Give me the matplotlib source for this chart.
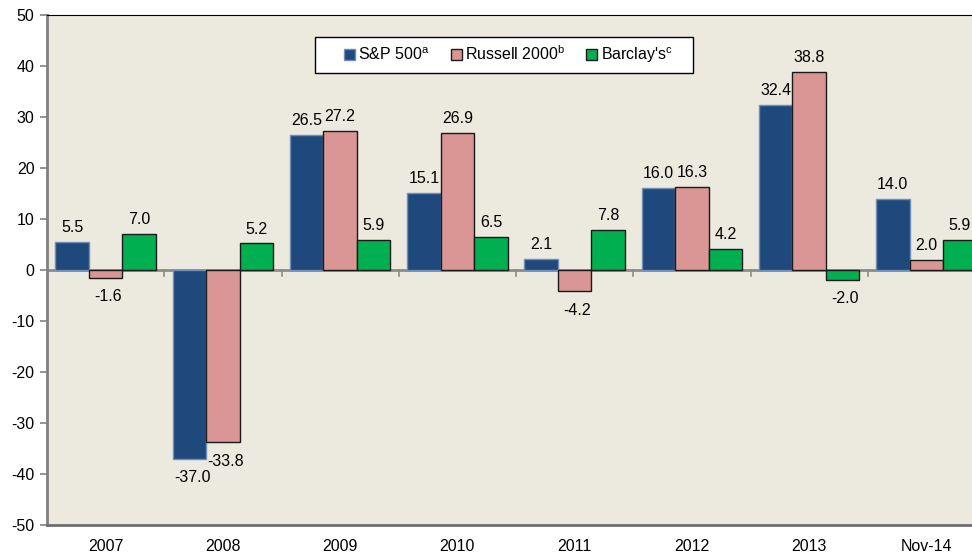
import matplotlib.pyplot as plt
from matplotlib.patches import Rectangle
import numpy as np

# chart data
categories = ['2007', '2008', '2009', '2010', '2011', '2012', '2013', 'Nov-14']
sp500 = [5.5, -37.0, 26.5, 15.1, 2.1, 16.0, 32.4, 14.0]
russell = [-1.6, -33.8, 27.2, 26.9, -4.2, 16.3, 38.8, 2.0]
barclays = [7.0, 5.2, 5.9, 6.5, 7.8, 4.2, -2.0, 5.9]

series_names = [r'S&P 500$^{\mathrm{a}}$', r'Russell 2000$^{\mathrm{b}}$', r"Barclay's$^{\mathrm{c}}$"]
colors = ['#1F497D', '#D99694', '#00B050']
edges = ['#6F8DB5', '#1a1a1a', '#1a1a1a']

plt.rcParams['font.family'] = ['Liberation Sans', 'DejaVu Sans']
plt.rcParams['mathtext.fontset'] = 'custom'
plt.rcParams['mathtext.rm'] = 'Liberation Sans'
plt.rcParams['mathtext.it'] = 'Liberation Sans'
plt.rcParams['axes.unicode_minus'] = False

fig = plt.figure(figsize=(9.72, 5.55), dpi=100)
ax = fig.add_axes([0.0484, 0.054, 0.965, 0.919])
ax.set_facecolor('#ECE9DF')

x = np.arange(len(categories))
width = 0.286
for i, (vals, name) in enumerate(zip([sp500, russell, barclays], series_names)):
    pos = x + (i - 1) * width
    bars = ax.bar(pos, vals, width, color=colors[i], edgecolor=edges[i],
                  linewidth=1.0, label=name, zorder=3)
    for b, v in zip(bars, vals):
        if v >= 0:
            ax.annotate(f'{v:.1f}', (b.get_x() + b.get_width() / 2, v),
                        xytext=(0, 5), textcoords='offset points',
                        ha='center', va='bottom', fontsize=11.5)
        else:
            ax.annotate(f'{v:.1f}', (b.get_x() + b.get_width() / 2, v),
                        xytext=(2, -8), textcoords='offset points',
                        ha='center', va='top', fontsize=11.5)

ax.set_xlim(-0.5, len(categories) - 0.5)
ax.set_ylim(-50, 50)
ax.set_yticks(np.arange(-50, 51, 10))
ax.set_xticks(x)
ax.set_xticklabels(categories)
ax.tick_params(axis='x', length=0, pad=10, labelsize=11.5)
ax.tick_params(axis='y', length=5, color='#808080', width=1.2, labelsize=11.5, pad=4)

# zero line with category separator ticks
ax.axhline(0, color='#8C8C8C', linewidth=2, zorder=2)
for b in np.arange(0.5, len(categories) - 0.5, 1):
    ax.plot([b, b], [0, -1.1], color='#8C8C8C', linewidth=1.2, zorder=2)

ax.spines['left'].set_color('#808080')
ax.spines['left'].set_linewidth(2)
ax.spines['bottom'].set_color('#6E6E6E')
ax.spines['bottom'].set_linewidth(2)
ax.spines['top'].set_color('black')
ax.spines['right'].set_color('black')

# legend box drawn separately (Excel style padding)
ax.add_patch(Rectangle((0.2857, 0.886), 0.403, 0.071, transform=ax.transAxes,
                       facecolor='white', edgecolor='black', linewidth=1.0,
                       zorder=4))
leg = ax.legend(loc='center left', bbox_to_anchor=(0.3166, 0.9216), ncol=3,
                fontsize=11.5, frameon=False, borderpad=0, borderaxespad=0,
                handlelength=0.7, handleheight=0.7, handletextpad=0.2,
                columnspacing=1.3)
leg.set_zorder(5)

fig.savefig('out.png', dpi=100)
